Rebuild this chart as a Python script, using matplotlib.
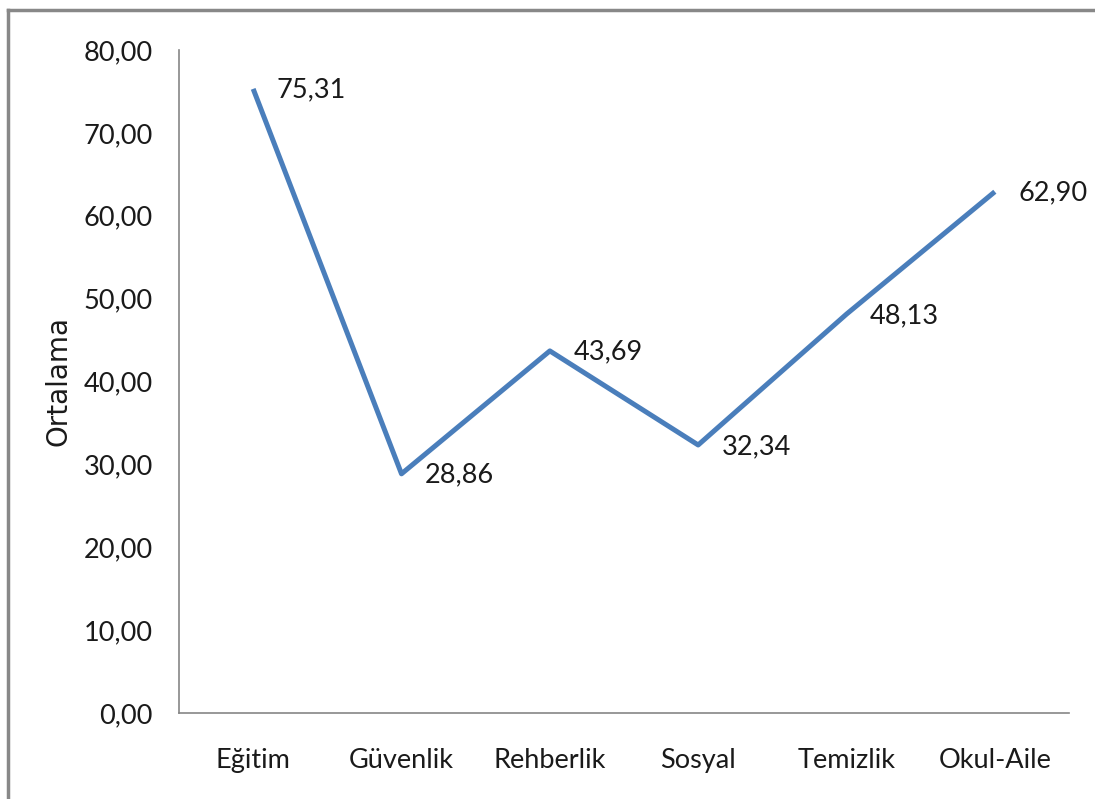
import matplotlib
matplotlib.use("Agg")
import matplotlib.pyplot as plt
from matplotlib.lines import Line2D

categories = ["Eğitim", "Güvenlik", "Rehberlik", "Sosyal", "Temizlik", "Okul-Aile"]
values = [75.31, 28.86, 43.69, 32.34, 48.13, 62.90]
yticks = [0, 10, 20, 30, 40, 50, 60, 70, 80]

narrow = ["Lato", "DejaVu Sans"]

fig = plt.figure(figsize=(10.95, 7.99), dpi=100)
ax = fig.add_axes([179/1095, 1-713/799, (1069-179)/1095, (713-50)/799])

x = list(range(len(categories)))
ax.plot(x, values, color="#4A7EBB", linewidth=3.6, solid_capstyle="butt")

for xi, v in zip(x, values):
    ax.annotate(f"{v:.2f}".replace(".", ","), (xi, v), xytext=(17, -1),
                textcoords="offset points", ha="left", va="center",
                fontsize=19.5, family=narrow, color="#1a1a1a")

ax.set_xlim(-0.5, len(categories) - 0.5)
ax.set_ylim(0, 80)
ax.set_yticks(yticks)
ax.set_yticklabels([f"{t:.2f}".replace(".", ",") for t in yticks], family=narrow, fontsize=19.5, color="#1a1a1a")
ax.set_xticks(x)
ax.set_xticklabels(categories, family=narrow, fontsize=19.5, color="#1a1a1a")
ax.tick_params(axis="both", length=0)
ax.tick_params(axis="y", pad=19)
ax.tick_params(axis="x", pad=25)

for s in ["top", "right"]:
    ax.spines[s].set_visible(False)
for s in ["left", "bottom"]:
    ax.spines[s].set_color("#868686")
    ax.spines[s].set_linewidth(1.2)

ax.set_ylabel("Ortalama", fontsize=20, family="DejaVu Sans", color="#1a1a1a")
ax.yaxis.set_label_coords(-(179-72)/890, 0.5)

# outer border (top and left)
fig.add_artist(Line2D([8/1095, 1], [1-10/799, 1-10/799], color="#888888", linewidth=2.5, transform=fig.transFigure))
fig.add_artist(Line2D([8/1095, 8/1095], [0, 1-10/799], color="#888888", linewidth=2.5, transform=fig.transFigure))

fig.savefig("out.png", dpi=100)
